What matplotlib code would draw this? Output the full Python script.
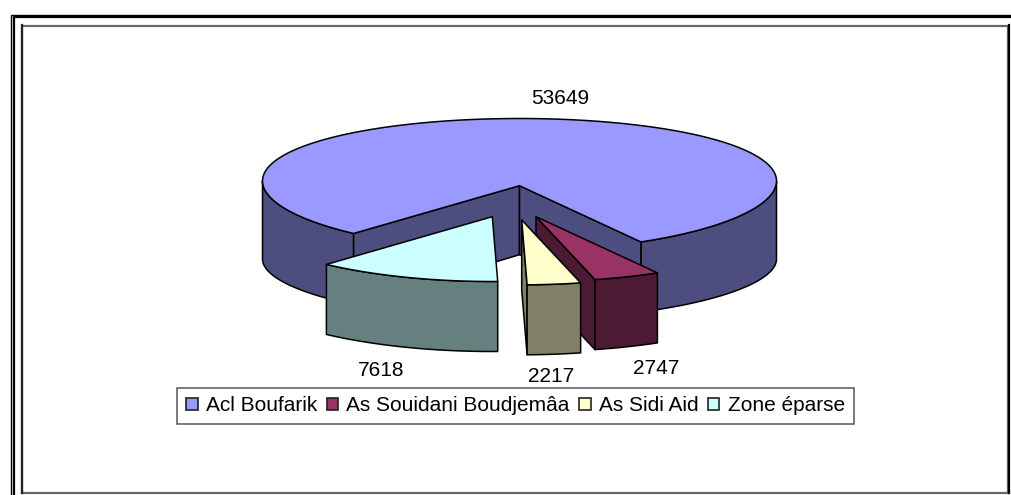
import numpy as np
import matplotlib
matplotlib.use("Agg")
import matplotlib.pyplot as plt
from matplotlib.patches import Polygon, Rectangle

categories = ["Acl Boufarik", "As Souidani Boudjemâa", "As Sidi Aid", "Zone éparse"]
values = [53649, 2747, 2217, 7618]
top_colors = ["#9999FF", "#993366", "#FFFFCC", "#CCFFFF"]
side_colors = ["#4D4D80", "#4D1A33", "#808066", "#668080"]

plt.rcParams["font.family"] = ["Liberation Sans", "DejaVu Sans"]
W, H = 1011, 495
fig = plt.figure(figsize=(W / 100, H / 100), dpi=100)
ax = fig.add_axes([0, 0, 1, 1])
ax.set_xlim(0, W)
ax.set_ylim(H, 0)
ax.axis("off")

# projection of the tilted pie
CX, CY, RX = 519.5, 181.0, 257.0
START = 220.2
offsets = [(0, 0), (16.5, 31), (2.2, 34.3), (-27.2, 31)]
DEPTH = 70
CENTER_DEPTH = 69


def project(theta, r=1.0):
    t = np.radians(theta)
    v = np.cos(t)
    x = CX + RX * r * np.sin(t)
    y = CY - (66 - 3.5 * v) * r * v + 4.7 * (1 - r)
    return x, y


def rim_depth(theta):
    return 78 + 9 * np.cos(np.radians(theta))


def arc(a, b, n=120):
    th = np.linspace(a, b, n)
    return np.column_stack(project(th))


def poly(pts, color, lw=1.1, z=1):
    ax.add_patch(Polygon(pts, closed=True, facecolor=color, edgecolor="black",
                         linewidth=lw, joinstyle="round", zorder=z))


def extrude_arc(pts, dep):
    dep = np.asarray(dep, dtype=float)
    low = pts.copy()
    low[:, 1] = low[:, 1] + dep
    return np.vstack([pts, low[::-1]])


def rim_face(a, b, n=120):
    th = np.linspace(a, b, n)
    return extrude_arc(np.column_stack(project(th)), rim_depth(th))


total = sum(values)
spans = [v / total * 360 for v in values]
starts = START + np.concatenate([[0], np.cumsum(spans)[:-1]])

# main slice
a0, a1 = starts[0], starts[0] + spans[0]
center = np.array(project(0, 0))
left_c = arc(a0, a0, 1)[0]
right_c = arc(a1, a1, 1)[0]
# outer visible faces
poly(rim_face(a0, 270), side_colors[0], z=1)
poly(rim_face(90, a1 - 360), side_colors[0], z=1)
# inner faces
poly([center, left_c, left_c + [0, rim_depth(a0)], center + [0, CENTER_DEPTH]], side_colors[0], z=1)
poly([center, right_c, right_c + [0, rim_depth(a1)], center + [0, CENTER_DEPTH]], side_colors[0], z=1)
# top face
poly(np.vstack([center, arc(a0, a1, 400)]), top_colors[0], z=2)

# exploded slices
for i in (1, 2, 3):
    a, b = starts[i], starts[i] + spans[i]
    off = np.array(offsets[i])
    c = center + off
    ar = arc(a, b, 40) + off
    z = 3 + i
    if i != 3:
        e = ar[-1]
        poly([c, e, e + [0, DEPTH], c + [0, DEPTH]], side_colors[i], z=z)
    poly(extrude_arc(ar, DEPTH), side_colors[i], z=z)
    poly(np.vstack([c, ar]), top_colors[i], z=z)

# value labels
label_pos = [(560, 98), (656, 369), (551, 376), (381, 371)]
for v, (x, y) in zip(values, label_pos):
    ax.text(x, y, str(v), ha="center", va="center", fontsize=15, color="black", zorder=8)

# legend
handles = [Rectangle((0, 0), 1, 1, facecolor=c, edgecolor="#222222", linewidth=1.2) for c in top_colors]
leg = ax.legend(handles, categories, ncol=4, loc="center", bbox_to_anchor=(515.5, 405.8),
                bbox_transform=ax.transData, fontsize=15, frameon=True, fancybox=False,
                edgecolor="#555555", facecolor="white", framealpha=1,
                handlelength=0.55, handleheight=0.55, handletextpad=0.4,
                columnspacing=0.45, borderpad=0.42, borderaxespad=0)
leg.get_frame().set_linewidth(1.1)
leg.set_zorder(7)

# frames
ax.add_patch(Rectangle((22, 25.5), 986, 467.5, fill=False, edgecolor="#666666", linewidth=1.6, zorder=0))
ax.plot([22, 22], [25, 493], color="#222222", lw=1.6, zorder=0)
ax.plot([1008.5, 1008.5], [25, 493], color="black", lw=1.6, zorder=0)
ax.plot([10.5, 10.5, W], [H, 14.5, 14.5], color="black", lw=1.0, zorder=0)
ax.plot([14, 14, W], [H, 17, 17], color="black", lw=1.6, zorder=0)

fig.savefig("out.png", dpi=100, facecolor="white")
